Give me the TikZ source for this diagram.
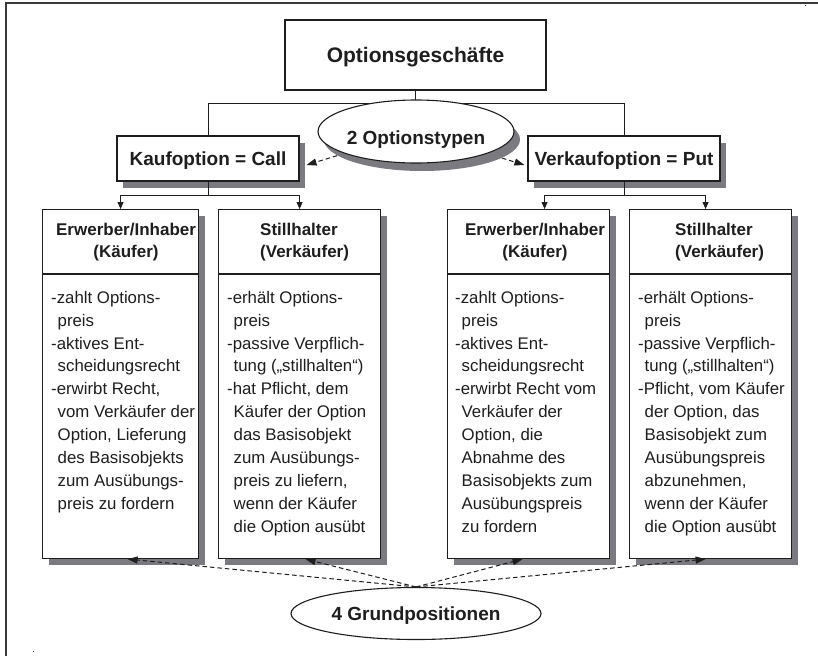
\documentclass[tikz,border=0pt]{standalone}
\usepackage{fontspec}
\setmainfont{Liberation Sans}
\usetikzlibrary{arrows.meta,shapes.geometric,shadows,calc,backgrounds}

\definecolor{ink}{HTML}{1E1E1E}
\definecolor{shade}{RGB}{122,122,128}
\definecolor{framegray}{HTML}{3A3A3A}

% continuation lines of a bullet are indented past the dash
\newcommand\contline{\hspace*{6.5pt}}

\tikzset{
  boxshadow/.style={general shadow={fill=shade, shadow xshift=6pt, shadow yshift=-6.5pt}},
  plainbox/.style={rectangle, draw=ink, line width=1.1pt, fill=white, inner sep=0pt, text=ink},
  titlebox/.style={plainbox, minimum width=261pt, minimum height=70pt,
    font=\bfseries\fontsize{21}{25}\selectfont, text height=15pt, text depth=0pt},
  typebox/.style={plainbox, boxshadow, minimum height=45pt,
    font=\bfseries\fontsize{19}{23}\selectfont, text height=13.6pt, text depth=0pt},
  posbox/.style={plainbox, boxshadow, anchor=north west, minimum height=349pt},
  headtext/.style={inner sep=0pt, text=ink, font=\bfseries\fontsize{17}{22}\selectfont},
  bodytext/.style={inner sep=0pt, text=ink, anchor=north west, align=left,
    font=\fontsize{16.8}{22.9}\selectfont},
  oval/.style={ellipse, draw=ink, line width=1.1pt, fill=white, inner sep=0pt, text=ink,
    font=\bfseries\fontsize{19}{23}\selectfont},
  link/.style={draw=ink, line width=1pt},
  branch/.style={link, -{Triangle[length=7pt,width=6pt]}},
  dashlink/.style={draw=ink, line width=1pt, dash pattern=on 4.5pt off 3pt,
    -{Triangle[length=10pt,width=7pt]}},
  frameline/.style={draw=framegray, line width=1.5pt}
}

\begin{document}
\begin{tikzpicture}[x=1pt,y=-1pt]
\useasboundingbox (0,0) rectangle (818,656);

% page frame
\draw[frameline] (818,3) -- (6,3) -- (6,656);
\fill[framegray] (804.5,5) rectangle ++(1.4,1.4);
\fill[framegray] (32.5,650.5) rectangle ++(1.3,1.3);

% top level and the two option types
\node[titlebox] (title) at (415.5,55) {Optionsgeschäfte};
\node[typebox, minimum width=182pt] (call) at (208,158.5) {Kaufoption = Call};
\node[typebox, minimum width=192pt] (put) at (624,158.5) {Verkaufoption = Put};

\draw[link] (title.south) -- ++(0,13) -| (call.north);
\draw[link] (title.south) -- ++(0,13) -| (put.north);

\node[oval, general shadow={fill=shade, shadow xshift=6pt, shadow yshift=-8pt},
      minimum width=196pt, minimum height=63pt, text height=25pt, text depth=0pt]
      (types) at (416,131.5) {2 Optionstypen};

\begin{scope}[on background layer]
  \draw[dashlink] (types.center) -- ($(call.east)+(7,6.5)$);
  \draw[dashlink] (types.center) -- ($(put.west)+(-3,6.5)$);
\end{scope}

% the four positions
\node[posbox, minimum width=156pt] (b1) at (42,209) {};
\node[posbox, minimum width=162pt] (b2) at (218,209) {};
\node[posbox, minimum width=162pt] (b3) at (447,209) {};
\node[posbox, minimum width=162pt] (b4) at (629,209) {};

\foreach \b in {b1,b2,b3,b4}
  \draw[link, line width=1.1pt] ($(\b.north west)+(0,65)$) -- ($(\b.north east)+(0,65)$);

\draw[branch] (call.south) -- ++(0,14) -| (b1.north);
\draw[branch] (call.south) -- ++(0,14) -| (b2.north);
\draw[branch] (put.south) -- ++(0,14) -| ($(b3.north)+(16,0)$);
\draw[branch] (put.south) -- ++(0,14) -| ($(b4.north)+(-5,0)$);

% headings
\node[headtext, anchor=north, align=center] (h1) at ($(b1.north)+(5.5,10.6)$)
  {\strut Erwerber/Inhaber\\(Käufer)};
\node[headtext, anchor=north west, align=left] (h2) at ($(b2.north west)+(42,10.6)$)
  {\strut Stillhalter\\(Verkäufer)};
\node[headtext, anchor=north, align=center] (h3) at ($(b3.north)+(6.5,10.6)$)
  {\strut Erwerber/Inhaber\\(Käufer)};
\node[headtext, anchor=north west, align=left] (h4) at ($(b4.north west)+(46,10.6)$)
  {\strut Stillhalter\\(Verkäufer)};

% descriptions
\node[bodytext] (t1) at ($(b1.north west)+(9,78)$) {\strut -zahlt Options-\\
\contline preis\\
-aktives Ent-\\
\contline scheidungsrecht\\
-erwirbt Recht,\\
\contline vom Verkäufer der\\
\contline Option, Lieferung\\
\contline des Basisobjekts\\
\contline zum Ausübungs-\\
\contline preis zu fordern};

\node[bodytext] (t2) at ($(b2.north west)+(9,78)$) {\strut -erhält Options-\\
\contline preis\\
-passive Verpflich-\\
\contline tung („stillhalten“)\\
-hat Pflicht, dem\\
\contline Käufer der Option\\
\contline das Basisobjekt\\
\contline zum Ausübungs-\\
\contline preis zu liefern,\\
\contline wenn der Käufer\\
\contline die Option ausübt};

\node[bodytext] (t3) at ($(b3.north west)+(8,78)$) {\strut -zahlt Options-\\
\contline preis\\
-aktives Ent-\\
\contline scheidungsrecht\\
-erwirbt Recht vom\\
\contline Verkäufer der\\
\contline Option, die\\
\contline Abnahme des\\
\contline Basisobjekts zum\\
\contline Ausübungspreis\\
\contline zu fordern};

\node[bodytext] (t4) at ($(b4.north west)+(9,78)$) {\strut -erhält Options-\\
\contline preis\\
-passive Verpflich-\\
\contline tung („stillhalten“)\\
-Pflicht, vom Käufer\\
\contline der Option, das\\
\contline Basisobjekt zum\\
\contline Ausübungspreis\\
\contline abzunehmen,\\
\contline wenn der Käufer\\
\contline die Option ausübt};

% common label for the four positions
\node[oval, minimum width=250pt, minimum height=52pt, text height=13.6pt, text depth=0pt]
  (grund) at (416,613.5) {4 Grundpositionen};

\draw[dashlink] (grund.north) -- ($(b1.south)+(7,0)$);
\draw[dashlink] (grund.north) -- ($(b2.south)+(6,0)$);
\draw[dashlink] (grund.north) -- ($(b3.south)+(-6,0)$);
\draw[dashlink] (grund.north) -- ($(b4.south)+(-5,0)$);
\end{tikzpicture}
\end{document}
